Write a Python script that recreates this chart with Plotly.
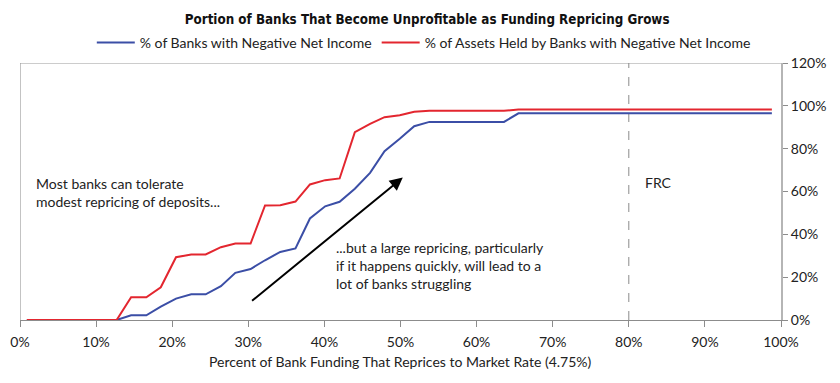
import plotly.graph_objects as go

# ---- data ----
repricing_pct = [0.9, 2.9, 4.8, 6.8, 8.7, 10.7, 12.7, 14.6, 16.6, 18.5,
                 20.5, 22.5, 24.4, 26.4, 28.3, 30.3, 32.2, 34.2, 36.2, 38.1,
                 40.1, 42.0, 44.0, 46.0, 47.9, 49.9, 51.8, 53.8, 55.7, 57.7,
                 59.7, 61.6, 63.6, 65.5, 67.5, 69.4, 71.4, 73.4, 75.3, 77.3,
                 79.2, 81.2, 83.2, 85.1, 87.1, 89.0, 91.0, 93.0, 94.9, 96.9, 98.8]

banks_negative = [0, 0, 0, 0, 0, 0, 0,
                  2.2, 2.2, 6.2, 10.0, 12.0, 12.0, 15.8, 22.0, 23.8, 27.9,
                  31.8, 33.4, 47.4, 53.1, 55.2, 61.3, 68.7, 78.8, 84.6, 90.5,
                  92.5, 92.5, 92.5, 92.5, 92.5, 92.5,
                  96.5, 96.5, 96.5, 96.5, 96.5, 96.5, 96.5, 96.5, 96.5,
                  96.5, 96.5, 96.5, 96.5, 96.5, 96.5, 96.5, 96.5, 96.5]

assets_negative = [0, 0, 0, 0, 0, 0, 0,
                   10.6, 10.6, 15.3, 29.3, 30.6, 30.6, 34.0, 35.7, 35.7, 53.5,
                   53.6, 55.3, 63.3, 65.3, 66.1, 87.7, 91.6, 94.7, 95.6, 97.2,
                   97.7, 97.7, 97.7, 97.7, 97.7, 97.7,
                   98.3, 98.3, 98.3, 98.3, 98.3, 98.3, 98.3, 98.3, 98.3,
                   98.3, 98.3, 98.3, 98.3, 98.3, 98.3, 98.3, 98.3, 98.3]

series_names = ["% of Banks with Negative Net Income",
                "% of Assets Held by Banks with Negative Net Income"]
x_ticks = [0, 10, 20, 30, 40, 50, 60, 70, 80, 90, 100]
y_ticks = [0, 20, 40, 60, 80, 100, 120]
frc_x = 80

FONT = "Lato, 'Open Sans', sans-serif"
TXT = "#222222"
AX = "#8c8c8c"

fig = go.Figure()
fig.add_trace(go.Scatter(x=repricing_pct, y=banks_negative, mode="lines",
                         name=series_names[0],
                         line=dict(color="#3b4ea6", width=2)))
fig.add_trace(go.Scatter(x=repricing_pct, y=assets_negative, mode="lines",
                         name=series_names[1],
                         line=dict(color="#e3262f", width=2)))

# frame lines (top and left) and FRC dashed line
fig.add_shape(type="line", xref="x", yref="y", x0=0, x1=100, y0=120, y1=120,
              line=dict(color="#9a9a9a", width=1.2), layer="below")
fig.add_shape(type="line", xref="x", yref="y", x0=0, x1=0, y0=0, y1=120,
              line=dict(color="#9a9a9a", width=1.2), layer="below")
fig.add_shape(type="line", xref="x", yref="y", x0=frc_x, x1=frc_x, y0=0, y1=120,
              line=dict(color="#8a8a8a", width=1, dash="dash"), layer="below")

annotations = [
    dict(x=frc_x + 1.8, y=64, xref="x", yref="y", text="FRC", showarrow=False,
         xanchor="left", yanchor="middle", font=dict(family=FONT, size=14, color=TXT)),
    dict(x=1.9, y=59.5, xref="x", yref="y",
         text="Most banks can tolerate<br>modest repricing of deposits...",
         showarrow=False, xanchor="left", yanchor="middle", align="left",
         font=dict(family=FONT, size=14, color=TXT)),
    dict(x=41.3, y=25.3, xref="x", yref="y",
         text="...but a large repricing, particularly<br>if it happens quickly, will lead to a<br>lot of banks struggling",
         showarrow=False, xanchor="left", yanchor="middle", align="left",
         font=dict(family=FONT, size=14, color=TXT)),
    dict(x=50.3, y=66.5, ax=30.3, ay=8.4, xref="x", yref="y", axref="x", ayref="y",
         text="", showarrow=True, arrowhead=2, arrowsize=1.3, arrowwidth=2,
         arrowcolor="#000000"),
    dict(x=0.5, y=-0.163, xref="paper", yref="paper",
         text="Percent of Bank Funding That Reprices to Market Rate (4.75%)",
         showarrow=False, xanchor="center", yanchor="middle",
         font=dict(family=FONT, size=14, color=TXT)),
]

fig.update_layout(
    width=840, height=383,
    margin=dict(l=12, r=67, t=55, b=71, autoexpand=False),
    paper_bgcolor="white", plot_bgcolor="white",
    title=dict(text="<b>Portion of Banks That Become Unprofitable as Funding Repricing Grows</b>",
               x=0.499, xanchor="center", y=0.971, yanchor="middle", yref="container",
               font=dict(family="'DejaVu Sans Condensed', sans-serif",
                         size=13.3, color="#111111")),
    legend=dict(orientation="h", x=0.495, xanchor="center", xref="container",
                y=0.909, yanchor="middle", yref="container",
                font=dict(family=FONT, size=14, color=TXT), itemwidth=38,
                traceorder="normal", bgcolor="rgba(0,0,0,0)"),
    showlegend=True,
    annotations=annotations,
    xaxis=dict(range=[0, 100], tickvals=x_ticks, ticktext=[f"{v}%" for v in x_ticks],
               showgrid=False, zeroline=False, showline=True, linecolor=AX, linewidth=1,
               ticks="outside", ticklen=6, tickcolor=AX, automargin=False,
               ticklabelstandoff=3,
               tickfont=dict(family=FONT, size=14, color=TXT)),
    yaxis=dict(range=[0, 120], tickvals=y_ticks, ticktext=[f"{v}%" for v in y_ticks],
               side="right", showgrid=False, zeroline=False, showline=True,
               linecolor="#b5b5b5", linewidth=2, ticks="outside", ticklen=5,
               tickcolor=AX, automargin=False, tickfont=dict(family=FONT, size=14, color=TXT)),
)

fig.write_html("out.html")
